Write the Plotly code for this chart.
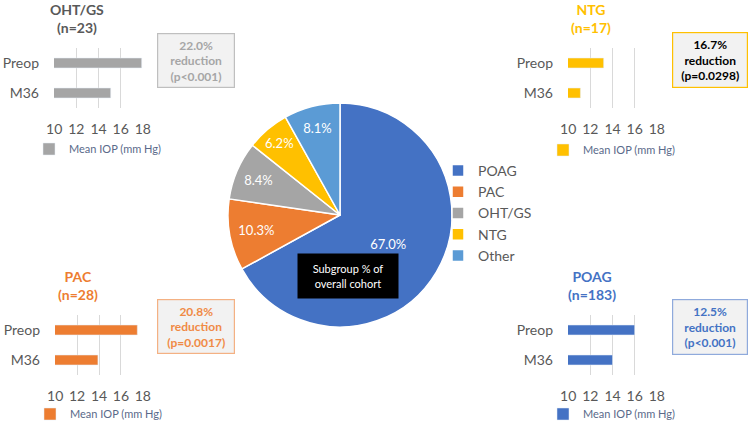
import plotly.graph_objects as go

# ---------------- data ----------------
groups = ["OHT/GS", "NTG", "PAC", "POAG"]
group_n = [23, 17, 28, 183]
timepoints = ["Preop", "M36"]
preop_iop = [17.9, 13.2, 17.5, 16.0]
m36_iop = [15.1, 11.1, 13.9, 14.0]
reductions = ["22.0%", "16.7%", "20.8%", "12.5%"]
p_values = ["p<0.001", "p=0.0298", "p=0.0017", "p<0.001"]
x_ticks = [10, 12, 14, 16, 18]

pie_labels = ["POAG", "PAC", "OHT/GS", "NTG", "Other"]
pie_values = [67.0, 10.3, 8.4, 6.2, 8.1]

# ---------------- styling ----------------
W, H = 751, 424
FONT = "Lato"
pie_colors = ["#4472C4", "#ED7D31", "#A5A5A5", "#FFC000", "#5B9BD5"]
bar_colors = ["#A5A5A5", "#FFC000", "#ED7D31", "#4472C4"]
title_colors = ["#595959", "#FFC000", "#ED7D31", "#4472C4"]
box_border = ["#BFBFBF", "#FFC000", "#F4B183", "#8FAADC"]
box_text = ["#A6A6A6", "#000000", "#F08A45", "#4472C4"]

panels = [
    dict(x0=54, x1=143, gt=48, gb=108, tcx=77, ty=19, bx0=157, bx1=235, by0=33, by1=88, ly=149, lx=29),
    dict(x0=568, x1=657, gt=48, gb=108, tcx=591, ty=19, bx0=672, bx1=748, by0=32, by1=88, ly=150, lx=543),
    dict(x0=55, x1=143, gt=315, gb=375, tcx=78, ty=285, bx0=157, bx1=235, by0=299, by1=354, ly=414, lx=30),
    dict(x0=568, x1=657, gt=315, gb=375, tcx=592, ty=285, bx0=672, bx1=748, by0=299, by1=355, ly=414, lx=543),
]


def px(x):
    return x / W


def py(y):
    return 1 - y / H


fig = go.Figure()

# ---------------- pie ----------------
fig.add_trace(go.Pie(
    labels=pie_labels, values=pie_values, sort=False, direction="clockwise", rotation=0,
    marker=dict(colors=pie_colors, line=dict(color="white", width=1.5)),
    texttemplate="%{value:.1f}%", textposition="inside", insidetextorientation="horizontal",
    textfont=dict(color="white", size=13, family=FONT),
    domain=dict(x=[px(228), px(452)], y=[py(327), py(103)]),
    legend="legend", hoverinfo="label+value", automargin=False,
))

layout_axes = {}
annotations = []
legends = {}

for i, p in enumerate(panels):
    k = i + 1
    xa = "xaxis" if k == 1 else f"xaxis{k}"
    ya = "yaxis" if k == 1 else f"yaxis{k}"
    xref = "x" if k == 1 else f"x{k}"
    yref = "y" if k == 1 else f"y{k}"
    leg = f"legend{k + 1}"

    fig.add_trace(go.Bar(
        x=[preop_iop[i], m36_iop[i]], y=timepoints, orientation="h",
        marker=dict(color=bar_colors[i]), width=0.33,
        name="Mean IOP (mm Hg)", xaxis=xref, yaxis=yref, legend=leg, showlegend=True,
    ))

    layout_axes[xa] = dict(
        domain=[px(p["x0"]), px(p["x1"])], range=[9.98, 18.02], tickvals=x_ticks,
        showgrid=True, gridcolor="#D9D9D9", gridwidth=1, zeroline=False, showline=False,
        ticks="", ticklabelstandoff=11, tickfont=dict(size=14, color="#595959", family=FONT),
        anchor=yref, fixedrange=True, automargin=False,
    )
    layout_axes[ya] = dict(
        domain=[py(p["gb"]), py(p["gt"])], categoryorder="array", categoryarray=timepoints,
        autorange="reversed", showgrid=False, zeroline=False, showline=False, ticks="",
        ticklabelstandoff=14, tickfont=dict(size=14, color="#595959", family=FONT),
        anchor=xref, fixedrange=True, automargin=False,
    )

    legends[leg] = dict(
        x=px(p["lx"]), xanchor="left", y=py(p["ly"]), yanchor="middle",
        bgcolor="rgba(0,0,0,0)", font=dict(size=11, color="#5A6A8A", family=FONT),
    )

    annotations.append(dict(
        x=px(p["tcx"]), y=py(p["ty"]), xref="paper", yref="paper", showarrow=False,
        xanchor="center", yanchor="middle",
        text=f"<b>{groups[i]}<br>(n={group_n[i]})</b>", align="center",
        font=dict(size=14, color=title_colors[i], family=FONT),
    ))
    bw = p["bx1"] - p["bx0"]
    bh = p["by1"] - p["by0"]
    annotations.append(dict(
        x=px((p["bx0"] + p["bx1"]) / 2), y=py((p["by0"] + p["by1"]) / 2),
        xref="paper", yref="paper", showarrow=False, xanchor="center", yanchor="middle",
        text=f"<b>{reductions[i]}<br>reduction<br>({p_values[i]})</b>", align="center",
        width=bw - 2, height=bh - 2, borderpad=0, borderwidth=1.2,
        bgcolor="#F2F2F2", bordercolor=box_border[i],
        font=dict(size=12, color=box_text[i], family=FONT),
    ))

annotations.append(dict(
    x=px(348), y=py(276), xref="paper", yref="paper", showarrow=False,
    xanchor="center", yanchor="middle", text="Subgroup % of<br>overall cohort",
    width=100, height=44, bgcolor="#000000", borderpad=0,
    font=dict(size=11, color="white", family=FONT),
))

legends["legend"] = dict(
    x=px(438), xanchor="left", y=py(213), yanchor="middle",
    bgcolor="rgba(0,0,0,0)", font=dict(size=14, color="#595959", family=FONT),
)

fig.update_layout(
    width=W, height=H, margin=dict(l=0, r=0, t=0, b=0, autoexpand=False),
    paper_bgcolor="white", plot_bgcolor="white",
    font=dict(family=FONT, color="#595959"),
    annotations=annotations, bargap=0.5,
    **layout_axes, **legends,
)

fig.write_html(
    "out.html",
    config={"displayModeBar": False},
    post_script="document.body.style.margin='0px';document.body.style.padding='0px';",
)
